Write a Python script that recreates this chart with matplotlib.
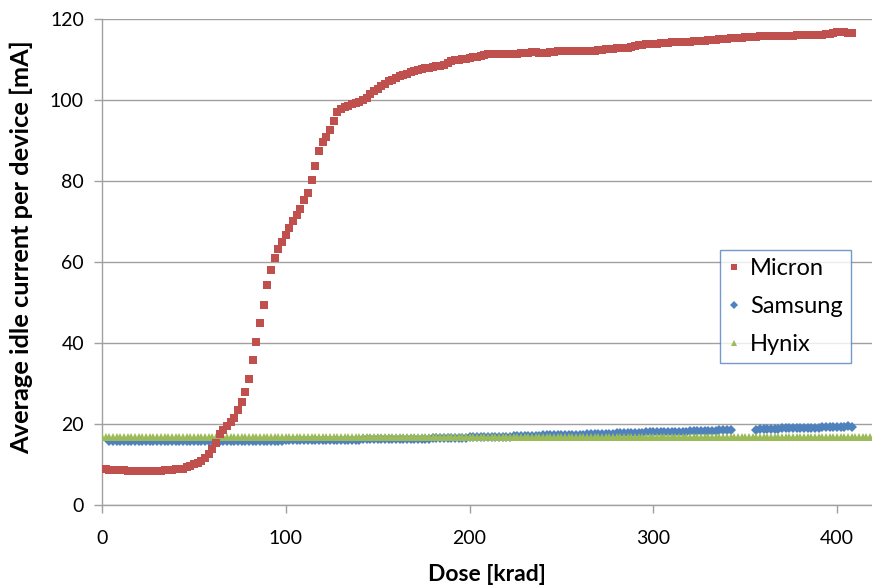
import numpy as np
from matplotlib import pyplot as plt

plt.rcParams['font.family'] = ['Lato', 'DejaVu Sans']

# dose sampling [krad]
micron_dose = np.arange(0, 409, 2)
samsung_dose = np.concatenate([np.arange(4, 343, 2), np.arange(356, 409, 2)])
hynix_dose = np.arange(0, 419, 2)

# average idle current [mA]
micron_current = [
    8.8, 8.8, 8.7, 8.7, 8.6, 8.6, 8.6, 8.5, 8.5, 8.5,      # 0
    8.5, 8.5, 8.5, 8.5, 8.5, 8.5, 8.5, 8.6, 8.6, 8.7,      # 20
    8.8, 8.9, 9.0, 9.3, 9.6, 10.0, 10.3, 10.8, 11.6, 12.6,  # 40
    13.9, 15.2, 17.6, 18.6, 19.5, 20.4, 21.6, 23.4, 25.5, 28.0,  # 60
    31.0, 35.8, 40.3, 44.9, 49.5, 54.4, 58.1, 61.0, 63.2, 65.0,  # 80
    66.7, 68.5, 70.2, 71.6, 73.0, 75.2, 77.0, 80.2, 83.6, 87.5,  # 100
    89.5, 90.8, 92.7, 94.9, 97.1, 97.8, 98.2, 98.5, 98.9, 99.2,  # 120
    99.6, 99.9, 100.5, 101.4, 102.1, 102.8, 103.5, 104.0, 104.6, 104.9,  # 140
    105.3, 105.8, 106.2, 106.5, 106.8, 107.1, 107.3, 107.6, 107.8, 108.0,  # 160
    108.1, 108.3, 108.5, 108.7, 109.1, 109.5, 109.8, 109.9, 110.0, 110.1,  # 180
    110.3, 110.5, 110.6, 110.9, 111.1, 111.3, 111.4, 111.4, 111.3, 111.3,  # 200
    111.3, 111.4, 111.4, 111.4, 111.5, 111.6, 111.7, 111.8, 111.8, 111.6,  # 220
    111.5, 111.6, 111.8, 111.9, 112.0, 112.0, 112.1, 112.1, 112.1, 112.1,  # 240
    112.1, 112.1, 112.1, 112.1, 112.2, 112.3, 112.4, 112.5, 112.6, 112.7,  # 260
    112.8, 112.8, 112.9, 112.9, 113.0, 113.4, 113.6, 113.6, 113.7, 113.8,  # 280
    113.9, 113.9, 114.0, 114.0, 114.1, 114.2, 114.2, 114.3, 114.3, 114.4,  # 300
    114.4, 114.5, 114.5, 114.6, 114.6, 114.7, 114.8, 114.9, 115.0, 115.1,  # 320
    115.1, 115.2, 115.3, 115.3, 115.4, 115.5, 115.5, 115.6, 115.6, 115.7,  # 340
    115.7, 115.7, 115.8, 115.8, 115.8, 115.8, 115.9, 115.9, 115.9, 116.0,  # 360
    116.0, 116.0, 116.0, 116.0, 116.1, 116.1, 116.1, 116.2, 116.3, 116.6,  # 380
    116.9, 116.9, 116.8, 116.6, 116.6,                                     # 400
]

samsung_current = [
    15.7, 15.7, 15.7, 15.7, 15.7, 15.7, 15.7, 15.7, 15.7, 15.7,  # 4
    15.7, 15.7, 15.7, 15.7, 15.7, 15.7, 15.7, 15.7, 15.7, 15.7,  # 24
    15.7, 15.7, 15.7, 15.8, 15.8, 15.8, 15.8, 15.8, 15.8, 15.8,  # 44
    15.8, 15.8, 15.8, 15.8, 15.8, 15.8, 15.8, 15.9, 15.9, 15.9,  # 64
    15.9, 15.9, 15.9, 15.9, 15.9, 15.9, 15.9, 15.9, 16.0, 16.0,  # 84
    16.0, 16.0, 16.0, 16.0, 16.0, 16.0, 16.0, 16.0, 16.0, 16.1,  # 104
    16.1, 16.1, 16.1, 16.1, 16.1, 16.1, 16.1, 16.1, 16.1, 16.2,  # 124
    16.2, 16.2, 16.2, 16.2, 16.2, 16.2, 16.2, 16.3, 16.3, 16.3,  # 144
    16.3, 16.3, 16.3, 16.4, 16.4, 16.4, 16.4, 16.4, 16.5, 16.5,  # 164
    16.5, 16.5, 16.5, 16.6, 16.6, 16.6, 16.6, 16.6, 16.7, 16.7,  # 184
    16.7, 16.7, 16.8, 16.8, 16.8, 16.8, 16.9, 16.9, 16.9, 16.9,  # 204
    17.0, 17.0, 17.0, 17.0, 17.1, 17.1, 17.1, 17.1, 17.2, 17.2,  # 224
    17.2, 17.2, 17.3, 17.3, 17.3, 17.3, 17.4, 17.4, 17.4, 17.4,  # 244
    17.5, 17.5, 17.5, 17.5, 17.6, 17.6, 17.6, 17.6, 17.7, 17.7,  # 264
    17.7, 17.7, 17.8, 17.8, 17.8, 17.8, 17.9, 17.9, 17.9, 17.9,  # 284
    18.0, 18.0, 18.0, 18.0, 18.1, 18.1, 18.1, 18.1, 18.2, 18.2,  # 304
    18.2, 18.2, 18.3, 18.3, 18.3, 18.3, 18.4, 18.4, 18.4, 18.5,  # 324
    18.6, 18.7, 18.7, 18.7, 18.8, 18.8, 18.8, 18.9, 18.9, 18.9,  # 356
    19.0, 19.0, 19.0, 19.0, 19.1, 19.1, 19.1, 19.1, 19.2, 19.2,  # 376
    19.2, 19.2, 19.3, 19.3, 19.3, 19.4, 19.3,                    # 396
]

hynix_current = [
    16.9, 16.9, 16.9, 16.8, 16.8, 16.8, 16.8, 16.8, 16.8, 16.8,  # 0
    16.8, 16.8, 16.8, 16.8, 16.8, 16.8, 16.8, 16.8, 16.8, 16.8,  # 20
    16.8, 16.8, 16.8, 16.8, 16.8, 16.8, 16.8, 16.8, 16.8, 16.8,  # 40
    16.8, 16.8, 16.8, 16.8, 16.8, 16.8, 16.8, 16.8, 16.8, 16.8,  # 60
    16.8, 16.8, 16.8, 16.8, 16.8, 16.8, 16.8, 16.8, 16.8, 16.8,  # 80
    16.8, 16.8, 16.8, 16.8, 16.8, 16.8, 16.8, 16.8, 16.8, 16.8,  # 100
    16.8, 16.8, 16.8, 16.8, 16.8, 16.8, 16.8, 16.9, 16.9, 16.8,  # 120
    16.8, 16.8, 16.8, 16.8, 16.8, 16.8, 16.8, 16.8, 16.8, 16.8,  # 140
    16.8, 16.8, 16.8, 16.8, 16.8, 16.8, 16.8, 16.8, 16.8, 16.8,  # 160
    16.8, 16.8, 16.8, 16.8, 16.8, 16.8, 16.8, 16.8, 16.8, 16.8,  # 180
    16.8, 16.8, 16.8, 16.7, 16.7, 16.7, 16.7, 16.7, 16.7, 16.7,  # 200
    16.7, 16.7, 16.7, 16.7, 16.7, 16.7, 16.7, 16.7, 16.7, 16.7,  # 220
    16.7, 16.7, 16.7, 16.7, 16.7, 16.7, 16.7, 16.7, 16.7, 16.7,  # 240
    16.7, 16.7, 16.7, 16.7, 16.7, 16.7, 16.7, 16.7, 16.7, 16.7,  # 260
    16.7, 16.7, 16.7, 16.7, 16.7, 16.7, 16.7, 16.7, 16.7, 16.7,  # 280
    16.7, 16.7, 16.7, 16.7, 16.7, 16.7, 16.7, 16.7, 16.7, 16.7,  # 300
    16.7, 16.7, 16.7, 16.7, 16.7, 16.7, 16.7, 16.7, 16.7, 16.7,  # 320
    16.7, 16.7, 16.7, 16.7, 16.7, 16.7, 16.7, 16.7, 16.7, 16.7,  # 340
    16.7, 16.7, 16.7, 16.7, 16.7, 16.7, 16.7, 16.7, 16.7, 16.7,  # 360
    16.7, 16.7, 16.7, 16.7, 16.7, 16.7, 16.7, 16.7, 16.7, 16.7,  # 380
    16.7, 16.7, 16.7, 16.7, 16.7, 16.7, 16.7, 16.7, 16.7, 16.7,  # 400
]

fig = plt.figure(figsize=(8.72, 5.87), dpi=100)
ax = fig.add_axes([0.117, 0.1397, 0.883, 0.828])

ax.plot(samsung_dose, samsung_current, 'D', color='#4F81BD', markersize=4.6,
        markeredgewidth=0, label='Samsung', zorder=3)
ax.plot(hynix_dose, hynix_current, '^', color='#9BBB59', markersize=5.6,
        markeredgewidth=0, label='Hynix', zorder=4)
ax.plot(micron_dose, micron_current, 's', color='#C0504D', markersize=5.6,
        markeredgewidth=0, label='Micron', zorder=5)

ax.set_xlim(0, 419)
ax.set_ylim(0, 120)
ax.set_xticks([0, 100, 200, 300, 400])
ax.set_yticks(range(0, 121, 20))
ax.yaxis.grid(True, color='#A0A0A0', linewidth=1.0)
ax.set_axisbelow(True)
for s in ['top', 'right']:
    ax.spines[s].set_visible(False)
for s in ['left', 'bottom']:
    ax.spines[s].set_color('#A0A0A0')
    ax.spines[s].set_linewidth(1.0)
ax.tick_params(axis='both', colors='#A0A0A0', labelcolor='black',
               labelsize=14, length=6, width=1, direction='out')
ax.tick_params(axis='x', pad=12)
ax.tick_params(axis='y', pad=7)

ax.set_xlabel("Dose [krad]", fontsize=16.5, fontweight='bold', labelpad=12)
ax.set_ylabel("Average idle current per device [mA]", fontsize=18.3,
              fontweight='bold')
ax.yaxis.set_label_coords(-0.089, 0.53)

handles, labels = ax.get_legend_handles_labels()
order = [2, 0, 1]
leg = ax.legend([handles[i] for i in order], [labels[i] for i in order],
                loc='upper left', bbox_to_anchor=(0.8026, 0.5247),
                fontsize=17, frameon=True, fancybox=False,
                edgecolor='#4F81BD', handlelength=0.5, handletextpad=0.45,
                borderpad=0.33, labelspacing=0.72, markerscale=0.85,
                borderaxespad=0)
leg.get_frame().set_linewidth(1.0)

plt.savefig("out.png", dpi=100)
